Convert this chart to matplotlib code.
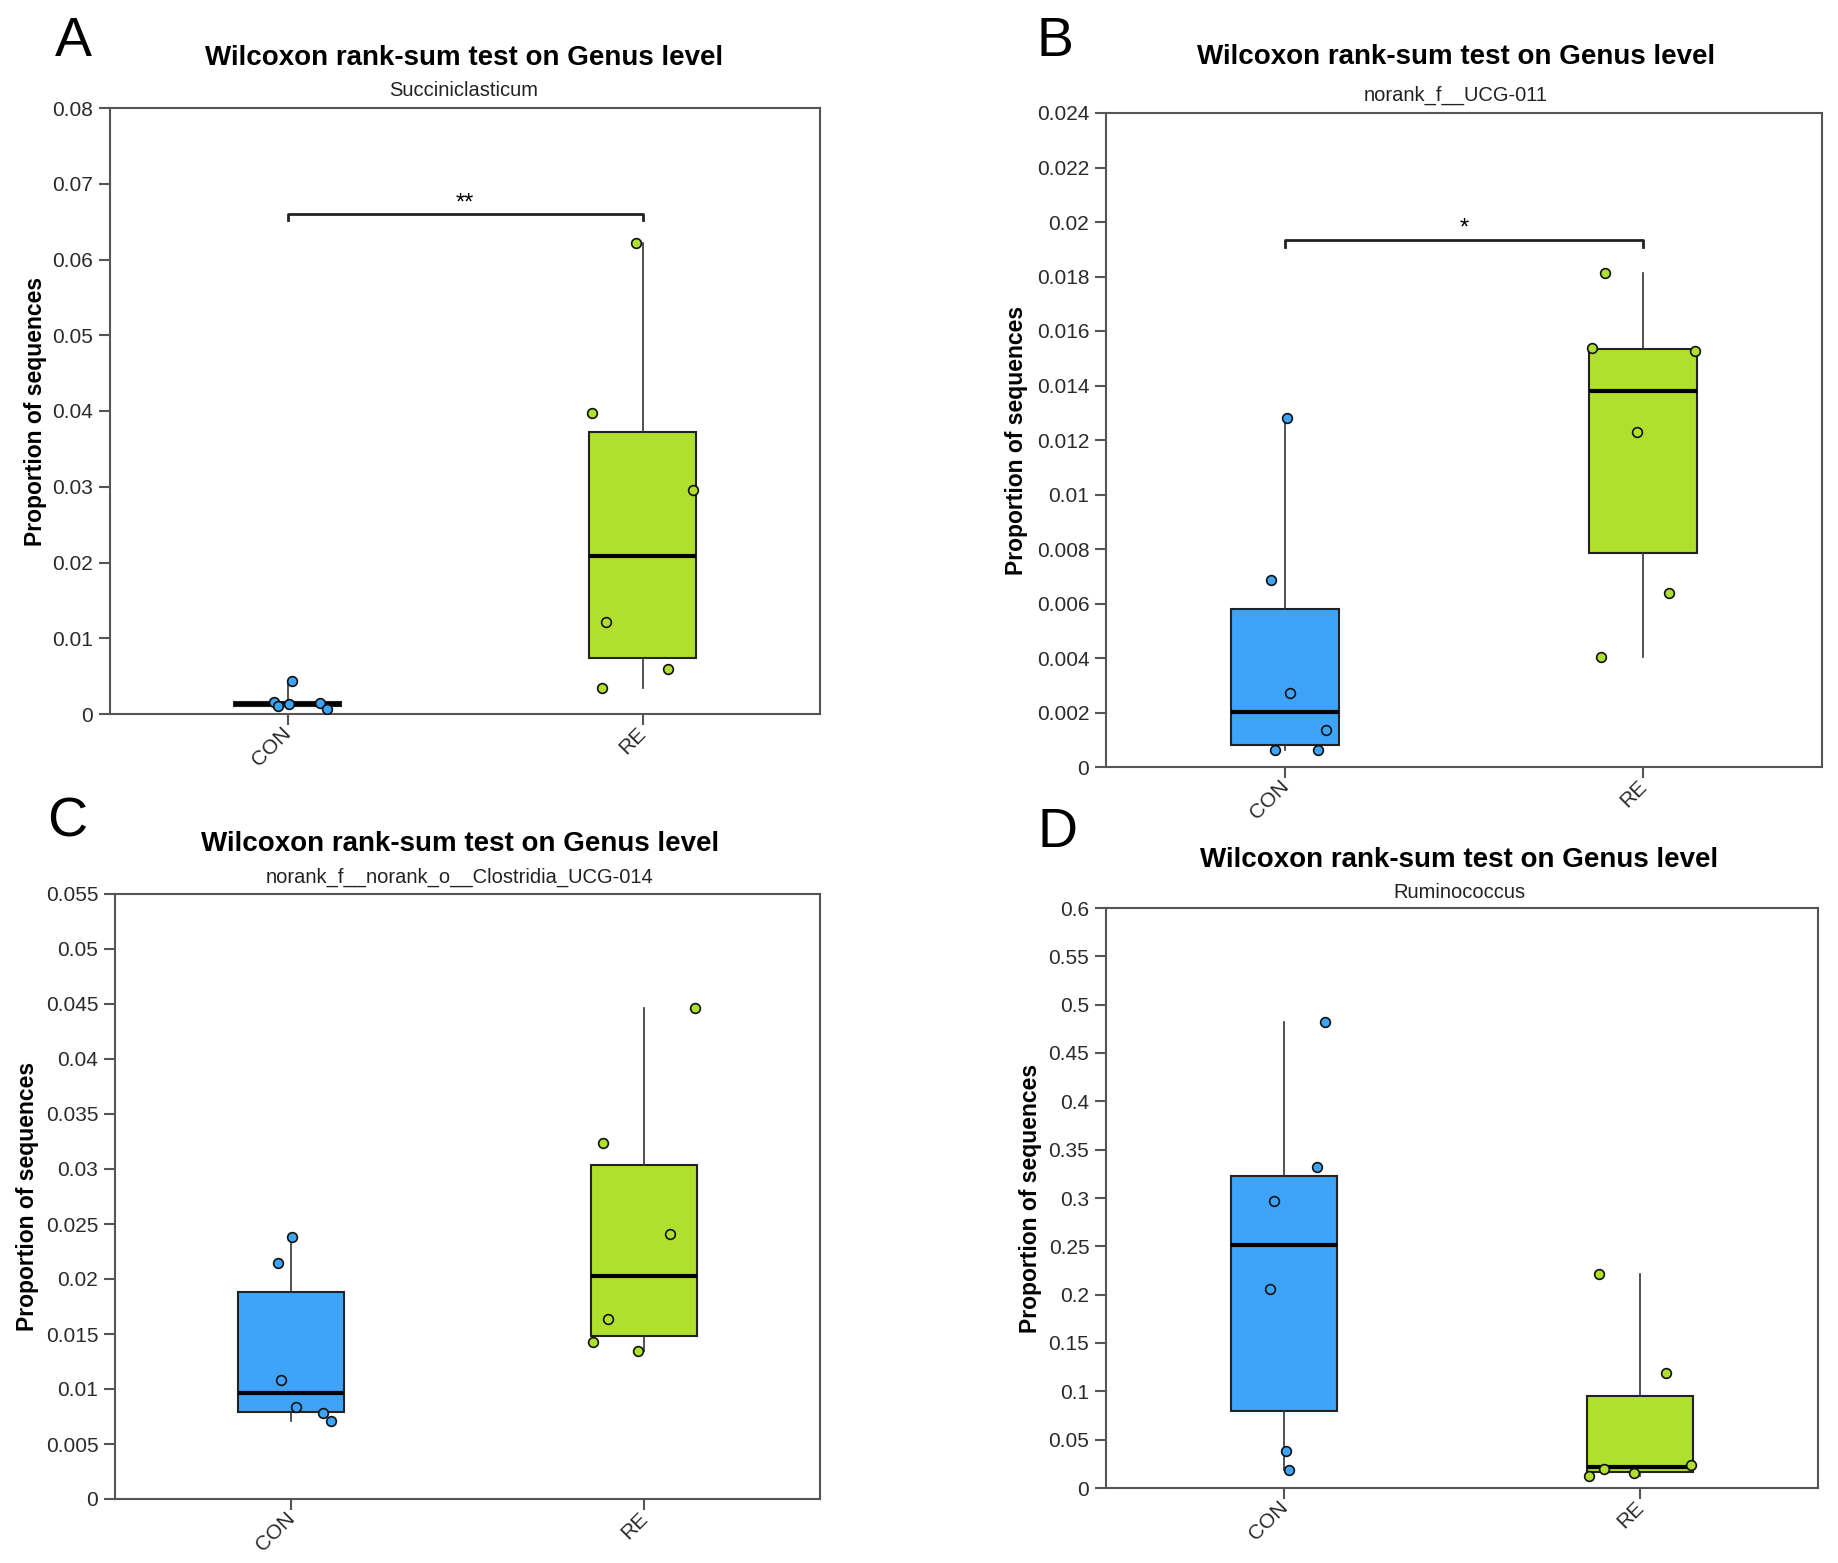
import numpy as np
import matplotlib
matplotlib.use("Agg")
import matplotlib.pyplot as plt
import matplotlib.transforms as mtransforms

plt.rcParams['font.family'] = ['Liberation Sans', 'DejaVu Sans']

groups = ["CON", "RE"]
main_title = "Wilcoxon rank-sum test on Genus level"

# panel A - Succiniclasticum
a_con = [0.0043, 0.0016, 0.0010, 0.0013, 0.0014, 0.0007]
a_con_jit = [0.012, -0.038, -0.028, 0.003, 0.091, 0.111]
a_re = [0.0622, 0.0398, 0.0296, 0.0121, 0.0059, 0.0034]
a_re_jit = [-0.017, -0.142, 0.142, -0.102, 0.073, -0.114]

# panel B - norank_f__UCG-011
b_con = [0.0128, 0.00685, 0.0027, 0.00135, 0.00064, 0.00064]
b_con_jit = [0.005, -0.038, 0.015, 0.115, -0.028, 0.093]
b_re = [0.01813, 0.01537, 0.01528, 0.01228, 0.00639, 0.00403]
b_re_jit = [-0.105, -0.142, 0.144, -0.016, 0.074, -0.116]

# panel C - norank_f__norank_o__Clostridia_UCG-014
c_con = [0.0238, 0.0215, 0.0108, 0.0084, 0.0078, 0.0071]
c_con_jit = [0.003, -0.038, -0.030, 0.013, 0.090, 0.114]
c_re = [0.0446, 0.0324, 0.0241, 0.0164, 0.0143, 0.0135]
c_re_jit = [0.145, -0.115, 0.075, -0.102, -0.144, -0.015]

# panel D - Ruminococcus
d_con = [0.482, 0.332, 0.297, 0.206, 0.038, 0.019]
d_con_jit = [0.114, 0.092, -0.028, -0.038, 0.007, 0.013]
d_re = [0.221, 0.119, 0.0237, 0.0196, 0.0156, 0.0126]
d_re_jit = [-0.114, 0.072, 0.142, -0.102, -0.016, -0.142]

BLUE = '#3ea4f9'
GREEN = '#b0e02e'

W, H = 1838, 1563
fig = plt.figure(figsize=(W / 100, H / 100), dpi=100)


def draw_panel(box, letter, letter_xy, subtitle, title_xy, con, con_jit, re_, re_jit,
               ymax, ystep, ylab_x, sig=None):
    l, r, t, b = box
    ax = fig.add_axes([l / W, 1 - b / H, (r - l) / W, (b - t) / H])

    bp = ax.boxplot([con, re_], positions=[0, 1], widths=0.3, whis=(0, 100),
                    patch_artist=True, showfliers=False, showcaps=False)
    for patch, col in zip(bp['boxes'], [BLUE, GREEN]):
        patch.set_facecolor(col)
        patch.set_edgecolor('#222222')
        patch.set_linewidth(1.5)
    for wk in bp['whiskers']:
        wk.set_color('#333333')
        wk.set_linewidth(1.2)
    for md in bp['medians']:
        md.set_color('black')
        md.set_linewidth(3)

    ax.plot(np.array(con_jit), con, 'o', ms=7, mfc=BLUE, mec='#111111', mew=1.2, zorder=5)
    ax.plot(1 + np.array(re_jit), re_, 'o', ms=7, mfc=GREEN, mec='#111111', mew=1.2, zorder=5)

    ax.set_xlim(-0.5, 1.5)
    ax.set_ylim(0, ymax)
    ticks = np.round(np.arange(0, ymax + ystep / 2, ystep), 6)
    ax.set_yticks(ticks)
    ax.set_yticklabels([f"{v:g}" for v in ticks])
    ax.set_xticks([0, 1])
    ax.set_xticklabels(groups, rotation=45, ha='right', va='top', rotation_mode='anchor')
    ax.tick_params(axis='both', labelsize=15, length=8, width=1.5, color='#555555',
                   labelcolor='#2a2a2a', pad=4)
    ax.tick_params(axis='x', pad=2)
    shift = mtransforms.ScaledTranslation(-0.06, 0.04, fig.dpi_scale_trans)
    for lab in ax.get_xticklabels():
        lab.set_transform(lab.get_transform() + shift)
    for sp in ax.spines.values():
        sp.set_color('#555555')
        sp.set_linewidth(1.5)

    ax.set_ylabel("Proportion of sequences", fontsize=16.5, fontweight='bold')
    ax.yaxis.set_label_coords((ylab_x - l) / (r - l), 0.5)

    tx, ty, sy = title_xy
    fig.text(tx / W, 1 - ty / H, main_title, ha='center', va='center',
             fontsize=20, fontweight='bold')
    fig.text(tx / W, 1 - sy / H, subtitle, ha='center', va='center',
             fontsize=14.5, color='#222222')
    fig.text(letter_xy[0] / W, 1 - letter_xy[1] / H, letter, ha='center', va='center',
             fontsize=40)

    if sig is not None:
        y_line, y_end, stars = sig
        ax.plot([0, 0, 1, 1], [y_end, y_line, y_line, y_end], color='#222222', lw=2)
        ax.text(0.5, y_line, stars, ha='center', va='bottom', fontsize=17)
    return ax


draw_panel((110, 820, 108, 714), "A", (73, 42), "Succiniclasticum", (464, 58, 91),
           a_con, a_con_jit, a_re, a_re_jit, 0.08, 0.01, 47, sig=(0.066, 0.0652, "**"))
draw_panel((1106, 1822, 113, 767), "B", (1055, 42), "norank_f__UCG-011", (1456, 57, 95),
           b_con, b_con_jit, b_re, b_re_jit, 0.024, 0.002, 1028, sig=(0.01934, 0.0191, "*"))
draw_panel((115, 820, 894, 1499), "C", (67, 823), "norank_f__norank_o__Clostridia_UCG-014",
           (460, 844, 877),
           c_con, c_con_jit, c_re, c_re_jit, 0.055, 0.005, 39)
draw_panel((1106, 1818, 908, 1488), "D", (1058, 833), "Ruminococcus", (1459, 860, 892),
           d_con, d_con_jit, d_re, d_re_jit, 0.6, 0.05, 1042)

fig.savefig("out.png", dpi=100)
